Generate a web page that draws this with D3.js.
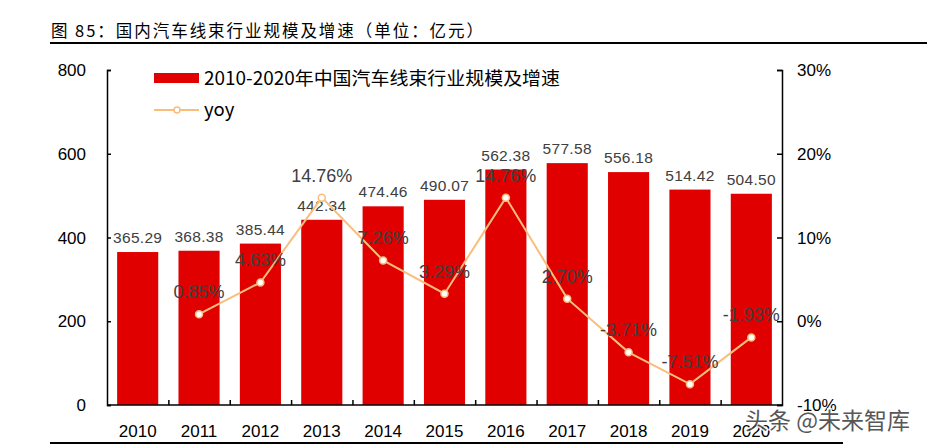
<!DOCTYPE html>
<html><head><meta charset="utf-8">
<script src="https://cdn.jsdelivr.net/npm/d3@7/dist/d3.min.js"></script>
<style>body{margin:0;background:#fff}svg{display:block}</style>
</head><body>
<svg id="c" width="927" height="445"></svg>
<script>
const years = ["2010","2011","2012","2013","2014","2015","2016","2017","2018","2019","2020"];
const scale = [365.29,368.38,385.44,442.34,474.46,490.07,562.38,577.58,556.18,514.42,504.50];
const yoyYears = ["2011","2012","2013","2014","2015","2016","2017","2018","2019","2020"];
const yoy = [0.85,4.63,14.76,7.26,3.29,14.76,2.70,-3.71,-7.51,-1.93];
const leftTicks = [0,200,400,600,800];
const rightTicks = [-10,0,10,20,30];
const title = "图 85：国内汽车线束行业规模及增速（单位：亿元）";
const seriesName = "2010-2020年中国汽车线束行业规模及增速";

const svg = d3.select("#c");
const L = 107, R = 782, T = 70, B = 405;
const x = d3.scaleBand().domain(years).range([L, R]).paddingInner(0.33).paddingOuter(0.165);
const y = d3.scaleLinear().domain([0, 800]).range([B, T]);
const y2 = d3.scaleLinear().domain([-10, 30]).range([B, T]);
const font = "'Liberation Sans', Arial, 'Noto Sans CJK SC', sans-serif";
const cjk = "'Noto Sans CJK SC', 'Liberation Sans', sans-serif";

// title
svg.append("text").attr("x", 51).attr("y", 37).attr("font-family", cjk).attr("font-size", 16.5)
  .attr("textLength", 432).attr("lengthAdjust", "spacing")
  .attr("fill", "#000").text(title);
svg.append("line").attr("x1", 50).attr("x2", 927).attr("y1", 43).attr("y2", 43).attr("stroke", "#000").attr("stroke-width", 2);
svg.append("line").attr("x1", 50).attr("x2", 843).attr("y1", 443).attr("y2", 443).attr("stroke", "#000").attr("stroke-width", 2);

// bars
svg.append("g").selectAll("rect").data(scale).join("rect")
  .attr("x", (d, i) => x(years[i])).attr("width", x.bandwidth())
  .attr("y", d => y(d)).attr("height", d => B - y(d)).attr("fill", "#E00000");

// axes
const axL = svg.append("g").attr("transform", `translate(${L},0)`)
  .call(d3.axisRight(y).tickValues(leftTicks).tickSize(4).tickFormat(""));
const axR = svg.append("g").attr("transform", `translate(${R},0)`)
  .call(d3.axisLeft(y2).tickValues(rightTicks).tickSize(5).tickFormat(""));
const xb = d3.scaleLinear().domain([0, years.length]).range([L, R]);
const axX = svg.append("g").attr("transform", `translate(0,${B})`)
  .call(d3.axisTop(xb).tickValues(d3.range(1, years.length)).tickSize(5).tickFormat(""));
[axL, axR, axX].forEach(g => { g.selectAll("path,line").attr("stroke", "#000").attr("stroke-width", 1.5); });
axX.select(".domain").attr("d", `M${L},0H${R}`);

svg.append("g").selectAll("text").data(leftTicks).join("text")
  .attr("x", 86).attr("y", d => y(d) + 6).attr("text-anchor", "end")
  .attr("font-family", font).attr("font-size", 17).attr("fill", "#000").text(d => d);
svg.append("g").selectAll("text").data(rightTicks).join("text")
  .attr("x", 797).attr("y", d => y2(d) + 6).attr("text-anchor", "start")
  .attr("font-family", font).attr("font-size", 17).attr("fill", "#000").text(d => d + "%");
svg.append("g").selectAll("text").data(years).join("text")
  .attr("x", d => x(d) + x.bandwidth() / 2).attr("y", 437).attr("text-anchor", "middle")
  .attr("font-family", font).attr("font-size", 17).attr("fill", "#000").text(d => d);

// bar labels
svg.append("g").selectAll("text").data(scale).join("text")
  .attr("x", (d, i) => x(years[i]) + x.bandwidth() / 2).attr("y", d => y(d) - 9)
  .attr("text-anchor", "middle").attr("font-family", font).attr("font-size", 15.5)
  .attr("letter-spacing", 0.3).attr("fill", "#404040").text(d => d.toFixed(2));

// line
const cx = d => x(d) + x.bandwidth() / 2;
const line = d3.line().x((d, i) => cx(yoyYears[i])).y(d => y2(d));
svg.append("path").datum(yoy).attr("d", line).attr("fill", "none")
  .attr("stroke", "#F9BE7C").attr("stroke-width", 2);
svg.append("g").selectAll("circle").data(yoy).join("circle")
  .attr("cx", (d, i) => cx(yoyYears[i])).attr("cy", d => y2(d)).attr("r", 3.5)
  .attr("fill", "#fff").attr("stroke", "#F9BE7C").attr("stroke-width", 1.5);
svg.append("g").selectAll("text").data(yoy).join("text")
  .attr("x", (d, i) => cx(yoyYears[i])).attr("y", d => y2(d) - 16)
  .attr("text-anchor", "middle").attr("font-family", font).attr("font-size", 18)
  .attr("fill", "#404040").text(d => d.toFixed(2) + "%");

// legend
svg.append("rect").attr("x", 154).attr("y", 73).attr("width", 45).attr("height", 10).attr("fill", "#E00000");
svg.append("text").attr("x", 204).attr("y", 85).attr("font-family", cjk).attr("font-size", 18.5)
  .attr("textLength", 356).attr("lengthAdjust", "spacingAndGlyphs")
  .attr("fill", "#000").text(seriesName);
svg.append("line").attr("x1", 154).attr("x2", 199).attr("y1", 110).attr("y2", 110)
  .attr("stroke", "#F9BE7C").attr("stroke-width", 2);
svg.append("circle").attr("cx", 177).attr("cy", 110).attr("r", 3).attr("fill", "#fff")
  .attr("stroke", "#F9BE7C").attr("stroke-width", 1.5);
svg.append("text").attr("x", 204).attr("y", 116).attr("font-family", cjk).attr("font-size", 18.5)
  .attr("fill", "#000").text("yoy");

// watermark
svg.append("text").attr("x", 745).attr("y", 429).attr("font-family", cjk).attr("font-size", 23)
  .attr("fill", "#3a3a3a").attr("stroke", "#fff").attr("stroke-width", 3).attr("paint-order", "stroke")
  .attr("opacity", 0.85).text("头条 @未来智库");
</script>
</body></html>
